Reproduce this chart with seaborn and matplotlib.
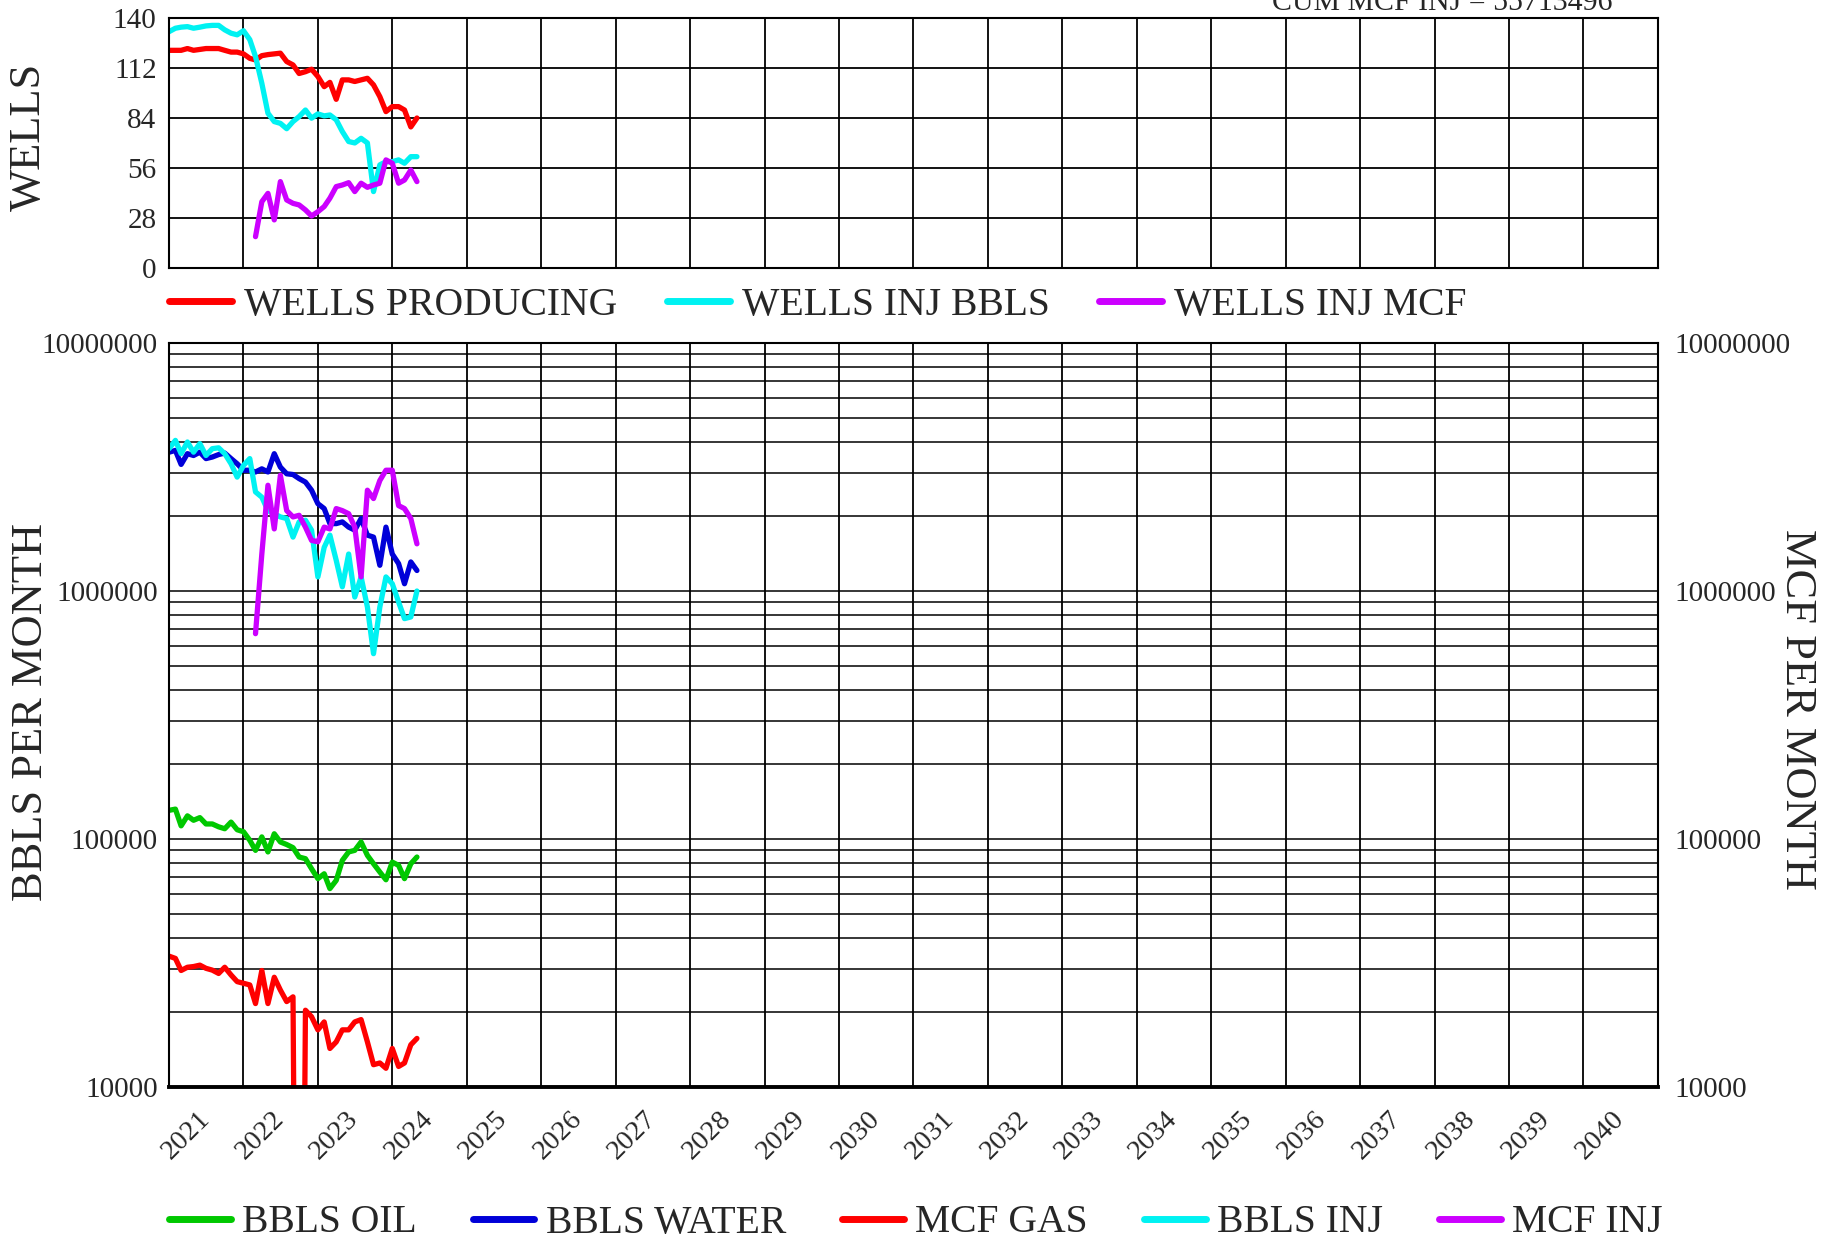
import numpy as np
import pandas as pd
import matplotlib
matplotlib.use("Agg")
import matplotlib.pyplot as plt
import seaborn as sns

# ------------------------------
# Data
# ------------------------------
dates = pd.date_range("2021-01-01", periods=41, freq="MS")

wells_producing = [122, 122, 122, 123, 122, 122.5, 123, 123, 123, 122, 121, 121, 120, 117.5,
                   116.6, 119, 119.6, 120, 120.4, 115.7, 113.8, 109, 110, 111.4, 107.3, 101.6,
                   104, 94.5, 105.4, 105.4, 104.5, 105.4, 106.3, 102.6, 96, 87.6, 90.4, 90.4,
                   88.5, 79, 84]
wells_inj_bbls = [132.5, 134.4, 135, 135.3, 134.4, 135, 135.7, 136, 136, 133.5, 131.6, 130.7,
                  133, 128, 118.5, 103.5, 86.7, 82, 81, 78, 82, 84.8, 88.5, 83.9, 86.3, 85.2,
                  85.7, 83, 76.4, 70.8, 70, 72.6, 70, 42.7, 57.7, 59.5, 59.5, 60.5, 58.6, 62.3,
                  62.3]
wells_inj_mcf = [np.nan] * 14 + [17.4, 37, 41.7, 26.8, 48.3, 38, 36.1, 35.2, 32.4, 29, 31.4,
                                 34.3, 39, 45.5, 46.4, 47.7, 42.7, 47.4, 45.1, 46.4, 47.4,
                                 60.5, 58.6, 47.4, 49.2, 54.8, 48.3]

bbls_oil = [130500, 132000, 113000, 124000, 119000, 122000, 115000, 115000, 112000, 110000,
            117000, 109000, 107000, 98800, 90000, 102000, 88700, 105000, 97300, 95000, 92300,
            84600, 83300, 75900, 69200, 72400, 63100, 68100, 82000, 88700, 90000, 97300,
            85900, 79500, 73600, 68500, 80700, 78300, 69200, 79500, 84600]
bbls_water = [3.63e6, 3.69e6, 3.24e6, 3.58e6, 3.52e6, 3.63e6, 3.42e6, 3.47e6, 3.55e6, 3.6e6,
              3.42e6, 3.26e6, 3.07e6, 3.07e6, 3.02e6, 3.11e6, 3.02e6, 3.58e6, 3.16e6, 2.97e6,
              2.95e6, 2.84e6, 2.75e6, 2.55e6, 2.25e6, 2.15e6, 1.87e6, 1.87e6, 1.9e6, 1.81e6,
              1.76e6, 1.96e6, 1.68e6, 1.65e6, 1.27e6, 1.81e6, 1.41e6, 1.29e6, 1.07e6, 1.31e6,
              1.21e6]
mcf_gas = [33700, 33000, 29500, 30400, 30600, 31000, 30100, 29600, 28700, 30400, 28300, 26600,
           26200, 25800, 21700, 29500, 21700, 27700, 24600, 22100, 23100, 10, 20400, 19200,
           17000, 18300, 14300, 15200, 17000, 17000, 18300, 18700, 15200, 12300, 12500, 11900,
           14300, 12100, 12500, 14800, 15700]
bbls_inj = [3.75e6, 4.05e6, 3.58e6, 3.99e6, 3.63e6, 3.93e6, 3.52e6, 3.75e6, 3.78e6, 3.58e6,
            3.26e6, 2.88e6, 3.21e6, 3.42e6, 2.51e6, 2.39e6, 2.11e6, 2.05e6, 1.99e6, 1.96e6,
            1.65e6, 1.9e6, 1.93e6, 1.76e6, 1.14e6, 1.5e6, 1.68e6, 1.33e6, 1.04e6, 1.41e6,
            0.946e6, 1.14e6, 0.862e6, 0.559e6, 0.862e6, 1.14e6, 1.07e6, 0.903e6, 0.774e6,
            0.786e6, 1.0e6]
mcf_inj = [np.nan] * 14 + [0.673e6, 1.41e6, 2.67e6, 1.78e6, 2.93e6, 2.11e6, 1.99e6, 2.02e6,
                           1.81e6, 1.6e6, 1.58e6, 1.81e6, 1.78e6, 2.15e6, 2.11e6, 2.05e6,
                           1.81e6, 1.14e6, 2.55e6, 2.36e6, 2.79e6, 3.07e6, 3.07e6, 2.21e6,
                           2.15e6, 1.96e6, 1.55e6]

years = list(range(2021, 2041))
cum_text = "CUM MCF INJ = 55713496"

# ------------------------------
# Style
# ------------------------------
sns.set_style("white")
plt.rcParams["font.family"] = ["Liberation Serif", "DejaVu Serif"]

RED, CYAN, MAGENTA = "#ff0000", "#00f2f2", "#cc00ff"
BLUE, GREEN = "#0000d8", "#00c800"
LW = 3.8
TICK_FS = 21

fig = plt.figure(figsize=(18.24, 12.42), dpi=100)
ax_top = fig.add_axes([0.0927, 0.7845, 0.8163, 0.2008])
ax_bot = fig.add_axes([0.0927, 0.1248, 0.8163, 0.599])

x_start = pd.Timestamp("2021-01-01")
x_end = pd.Timestamp("2041-01-01")
year_starts = [pd.Timestamp(f"{y}-01-01") for y in years + [2041]]
mid_years = [pd.Timestamp(f"{y}-07-01") for y in years]

# ------------------------------
# Top panel - wells
# ------------------------------
top = pd.DataFrame({"date": dates, "prod": wells_producing,
                    "injb": wells_inj_bbls, "injm": wells_inj_mcf})
sns.lineplot(data=top, x="date", y="prod", ax=ax_top, color=RED, lw=LW, label="WELLS PRODUCING")
sns.lineplot(data=top, x="date", y="injb", ax=ax_top, color=CYAN, lw=LW, label="WELLS INJ BBLS")
sns.lineplot(data=top, x="date", y="injm", ax=ax_top, color=MAGENTA, lw=LW, label="WELLS INJ MCF")

ax_top.set_xlim(x_start, x_end)
ax_top.set_ylim(0, 140)
ax_top.set_yticks([0, 28, 56, 84, 112, 140])
ax_top.set_xticks(year_starts)
ax_top.set_xticklabels([])
ax_top.set_xlabel("")
ax_top.set_ylabel("")
ax_top.grid(True, color="black", lw=1.3)
ax_top.tick_params(axis="both", length=0, labelsize=TICK_FS, pad=9)
for sp in ax_top.spines.values():
    sp.set_color("black")
    sp.set_linewidth(1.5)
handles, labels = ax_top.get_legend_handles_labels()
ax_top.get_legend().remove()
leg1 = fig.legend(handles, labels, loc="center left", bbox_to_anchor=(169 / 1824, 1 - 305 / 1242),
                  ncol=3, frameon=False, fontsize=28.5, handlelength=1.6, handletextpad=0.3,
                  columnspacing=1.24, borderpad=0, borderaxespad=0)
for ln in leg1.get_lines():
    ln.set_linewidth(5)

# ------------------------------
# Bottom panel - monthly volumes
# ------------------------------
bot = pd.DataFrame({"date": dates, "oil": bbls_oil, "water": bbls_water, "gas": mcf_gas,
                    "binj": bbls_inj, "minj": mcf_inj})
ax_bot.set_yscale("log")
sns.lineplot(data=bot, x="date", y="oil", ax=ax_bot, color=GREEN, lw=LW, label="BBLS OIL")
sns.lineplot(data=bot, x="date", y="water", ax=ax_bot, color=BLUE, lw=LW, label="BBLS WATER")
sns.lineplot(data=bot, x="date", y="gas", ax=ax_bot, color=RED, lw=LW, label="MCF GAS")
sns.lineplot(data=bot, x="date", y="binj", ax=ax_bot, color=CYAN, lw=LW, label="BBLS INJ")
sns.lineplot(data=bot, x="date", y="minj", ax=ax_bot, color=MAGENTA, lw=LW, label="MCF INJ")

ax_bot.set_xlim(x_start, x_end)
ax_bot.set_ylim(1e4, 1e7)
decades = [1e4, 1e5, 1e6, 1e7]
decade_labels = ["10000", "100000", "1000000", "10000000"]
ax_bot.set_yticks(decades)
ax_bot.set_yticklabels(decade_labels)
ax_bot.yaxis.set_minor_locator(matplotlib.ticker.LogLocator(base=10, subs=np.arange(2, 10)))
ax_bot.yaxis.set_minor_formatter(matplotlib.ticker.NullFormatter())
ax_bot.set_xticks(year_starts)
ax_bot.set_xticklabels([])
ax_bot.set_xticks(mid_years, minor=True)
ax_bot.set_xticklabels([str(y) for y in years], minor=True, rotation=45, ha="right",
                       va="center", rotation_mode="anchor")
ax_bot.set_xlabel("")
ax_bot.set_ylabel("")
ax_bot.grid(True, which="both", axis="y", color="black", lw=1.1)
ax_bot.grid(True, which="major", axis="x", color="black", lw=1.3)
ax_bot.tick_params(axis="both", which="both", length=0)
ax_bot.tick_params(axis="y", labelsize=TICK_FS, pad=8)
ax_bot.tick_params(axis="x", which="minor", labelsize=20.5, pad=20)
for sp in ax_bot.spines.values():
    sp.set_color("black")
    sp.set_linewidth(1.5)
ax_bot.spines["bottom"].set_linewidth(2.8)

ax_r = ax_bot.twinx()
ax_r.set_yscale("log")
ax_r.set_ylim(1e4, 1e7)
ax_r.set_yticks(decades)
ax_r.set_yticklabels(decade_labels)
ax_r.yaxis.set_minor_formatter(matplotlib.ticker.NullFormatter())
ax_r.tick_params(axis="y", which="both", length=0, labelsize=TICK_FS, pad=12)
ax_r.grid(False)
for sp in ax_r.spines.values():
    sp.set_visible(False)

handles, labels = ax_bot.get_legend_handles_labels()
ax_bot.get_legend().remove()
leg2 = fig.legend(handles, labels, loc="center left", bbox_to_anchor=(169 / 1824, 1 - 1223 / 1242),
                  ncol=5, frameon=False, fontsize=28.5, handlelength=1.56, handletextpad=0.28,
                  columnspacing=1.42, borderpad=0, borderaxespad=0)
for ln in leg2.get_lines():
    ln.set_linewidth(5)

# ------------------------------
# Labels
# ------------------------------
fig.text(29 / 1824, 1 - 137 / 1242, "WELLS", rotation=90, ha="center", va="center", fontsize=32)
fig.text(31 / 1824, 1 - 712 / 1242, "BBLS PER MONTH", rotation=90, ha="center", va="center",
         fontsize=32)
fig.text(1797 / 1824, 1 - 709 / 1242, "MCF PER MONTH", rotation=270, ha="center", va="center",
         fontsize=32)
fig.text(1442 / 1824, 1 - 10 / 1242, cum_text, ha="center", va="baseline", fontsize=21.5)

fig.savefig("out.png", dpi=100, facecolor="white")
